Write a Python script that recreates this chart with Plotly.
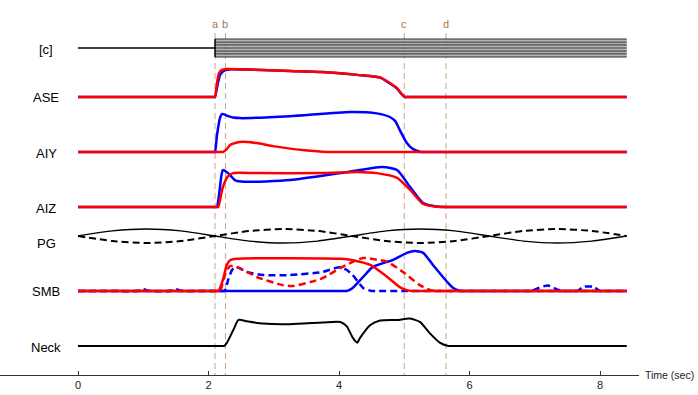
import plotly.graph_objects as go

# ---------------- data ----------------
X_TICKS = [0, 2, 4, 6, 8]
T_END = 8.41
EVENT_TIMES = [2.10, 2.26, 5.00, 5.64]
EVENT_LABELS = ["a", "b", "c", "d"]
ROW_LABELS = ["[c]", "ASE", "AIY", "AIZ", "PG", "SMB", "Neck"]

# stimulus concentration [c]
STIM_ON = 2.10
STIM_LEVELS = [-0.32, -0.21, -0.11, 0.0, 0.11, 0.21, 0.32]
STIM_GAPS = [-0.265, -0.16, -0.055, 0.055, 0.16, 0.265]

# ASE
ASE_RED_T = [0, 1.0, 1.9, 2.05, 2.09, 2.10, 2.13, 2.16, 2.20, 2.28, 2.60, 3.25, 3.75, 4.28, 4.63, 4.78, 4.89, 4.96, 5.01, 5.05, 5.2, 6.0, T_END]
ASE_RED_V = [0, 0, 0, 0, 0, 0, 0.50, 0.85, 0.96, 1.00, 0.98, 0.93, 0.89, 0.79, 0.70, 0.50, 0.32, 0.11, 0, 0, 0, 0, 0]
ASE_BLUE_T = [0, 1.0, 1.9, 2.05, 2.09, 2.10, 2.14, 2.18, 2.25, 2.35, 2.60, 3.25, 3.75, 4.28, 4.63, 4.78, 4.89, 4.96, 5.01, 5.05, 5.2, 6.0, T_END]
ASE_BLUE_V = [0, 0, 0, 0, 0, 0, 0.45, 0.80, 0.95, 0.99, 0.98, 0.93, 0.89, 0.79, 0.69, 0.48, 0.30, 0.10, 0, 0, 0, 0, 0]

# AIY
AIY_BLUE_T = [0, 1.0, 1.9, 2.05, 2.09, 2.10, 2.13, 2.18, 2.21, 2.28, 2.38, 2.48, 3.25, 4.17, 4.58, 4.78, 4.86, 4.93, 5.04, 5.13, 5.24, 5.32, 5.5, 6.5, T_END]
AIY_BLUE_V = [0, 0, 0, 0, 0, 0, 0.60, 1.25, 1.36, 1.30, 1.23, 1.21, 1.28, 1.43, 1.38, 1.25, 1.11, 0.79, 0.32, 0.11, 0.01, 0, 0, 0, 0]
AIY_RED_T = [0, 1.0, 1.9, 2.15, 2.20, 2.22, 2.28, 2.33, 2.41, 2.48, 2.74, 2.99, 3.51, 3.75, 3.9, 4.5, 6.0, T_END]
AIY_RED_V = [0, 0, 0, 0, 0, 0, 0.10, 0.25, 0.32, 0.36, 0.32, 0.21, 0.05, 0.01, 0, 0, 0, 0]

# AIZ
AIZ_BLUE_T = [0, 1.0, 1.9, 2.08, 2.12, 2.13, 2.17, 2.20, 2.22, 2.30, 2.41, 2.55, 3.25, 4.02, 4.67, 4.89, 5.09, 5.29, 5.50, 5.75, 6.0, 7.0, T_END]
AIZ_BLUE_V = [0, 0, 0, 0, 0, 0, 0.60, 1.15, 1.32, 1.21, 0.95, 0.90, 0.96, 1.21, 1.43, 1.32, 0.71, 0.14, 0.02, 0, 0, 0, 0]
AIZ_RED_T = [0, 1.0, 1.9, 2.10, 2.14, 2.15, 2.22, 2.30, 2.38, 2.74, 3.75, 4.28, 4.58, 4.89, 5.09, 5.29, 5.50, 5.75, 6.0, 7.0, T_END]
AIZ_RED_V = [0, 0, 0, 0, 0, 0, 0.71, 1.10, 1.21, 1.21, 1.21, 1.25, 1.21, 1.04, 0.61, 0.11, 0.01, 0, 0, 0, 0]

# PG (solid and dashed)
PG_T = [0, 0.525, 1.05, 1.575, 2.1, 2.625, 3.15, 3.675, 4.2, 4.725, 5.25, 5.775, 6.3, 6.825, 7.35, 7.875, 8.41]
PG_SOLID_V = [0, 0.18, 0.25, 0.18, 0, -0.18, -0.25, -0.18, 0, 0.18, 0.25, 0.18, 0, -0.18, -0.25, -0.18, 0]
PG_DASH_V = [0, -0.18, -0.25, -0.18, 0, 0.18, 0.25, 0.18, 0, -0.18, -0.25, -0.18, 0, 0.18, 0.25, 0.18, 0]

# SMB
SMB_RED_T = [0, 1.0, 1.9, 2.10, 2.14, 2.15, 2.22, 2.28, 2.33, 2.44, 3.25, 4.02, 4.21, 4.48, 4.74, 4.93, 5.04, 5.12, 5.2, 5.5, 6.5, T_END]
SMB_RED_V = [0, 0, 0, 0, 0, 0, 0.39, 0.93, 1.10, 1.15, 1.17, 1.15, 1.10, 0.93, 0.50, 0.14, 0.03, 0, 0, 0, 0, 0]
SMB_RED_DASH_T = [0, 1.0, 1.9, 2.12, 2.17, 2.18, 2.25, 2.33, 2.44, 2.74, 3.14, 3.30, 3.56, 3.75, 4.02, 4.21, 4.37, 4.52, 4.74, 4.98, 5.24, 5.39, 5.50, 5.6, 6.0, 7.0, T_END]
SMB_RED_DASH_V = [0, 0, 0, 0, 0, 0, 0.57, 0.89, 0.86, 0.50, 0.21, 0.18, 0.32, 0.46, 0.82, 1.04, 1.18, 1.14, 1.04, 0.68, 0.21, 0.04, 0, 0, 0, 0, 0]
SMB_BLUE_DASH_T = [0, 0.5, 0.9, 1.0, 1.1, 1.4, 1.5, 1.6, 1.9, 2.2, 2.24, 2.25, 2.30, 2.36, 2.41, 2.59, 2.84, 3.25, 3.75, 4.02, 4.12,
                   4.21, 4.37, 4.48, 4.55, 5.0, 6.0, 6.9, 6.95, 7.05, 7.20, 7.35, 7.45, 7.6, 7.65, 7.75, 7.90, 8.00, 8.1, T_END]
SMB_BLUE_DASH_V = [0, 0, 0, 0.06, 0, 0, 0.06, 0, 0, 0, 0, 0, 0.39, 0.75, 0.86, 0.68, 0.57, 0.57, 0.68, 0.86, 0.75,
                   0.57, 0.11, 0.01, 0, 0, 0, 0, 0, 0.10, 0.20, 0.05, 0, 0, 0, 0.15, 0.15, 0, 0, 0]
SMB_BLUE_T = [0, 1.0, 2.0, 3.0, 3.9, 4.08, 4.12, 4.21, 4.37, 4.52, 4.83, 5.04, 5.16, 5.29, 5.44, 5.66, 5.75, 5.85, 5.95, 6.5, 7.5, T_END]
SMB_BLUE_V = [0, 0, 0, 0, 0, 0, 0, 0.11, 0.50, 0.86, 1.11, 1.36, 1.43, 1.36, 0.93, 0.32, 0.11, 0.01, 0, 0, 0, 0]

# Neck
NECK_T = [0, 1.0, 1.9, 2.18, 2.22, 2.24, 2.28, 2.38, 2.46, 2.59, 2.84, 3.25, 3.75, 4.02, 4.12, 4.21, 4.28, 4.32,
          4.48, 4.63, 4.89, 5.09, 5.24, 5.39, 5.55, 5.66, 5.75, 6.2, 7.2, T_END]
NECK_V = [0, 0, 0, 0, 0, 0, 0.11, 0.57, 0.93, 0.88, 0.80, 0.78, 0.84, 0.86, 0.70, 0.30, 0.12, 0.28,
          0.75, 0.91, 0.93, 0.98, 0.86, 0.46, 0.11, 0.01, 0, 0, 0, 0]

# ---------------- layout constants ----------------
UNIT = 28.0             # vertical pixels per signal unit
PX_PER_S = 65.25
ROW_BASE = {"[c]": 48, "ASE": 97, "AIY": 152, "AIZ": 207, "PG": 236, "SMB": 291, "Neck": 346}
LABEL_Y = {"[c]": 49, "ASE": 97, "AIY": 153, "AIZ": 208, "PG": 243, "SMB": 291, "Neck": 347}
RED = "#ff0000"
BLUE = "#0000ff"
TAN_LINE = "#c9a682"
TAN_TEXT = "#a8784e"


def ymap(row, vals):
    return [-ROW_BASE[row] + v * UNIT for v in vals]


fig = go.Figure()


def add(row, t, v, color, width=2.5, dash=None):
    fig.add_trace(go.Scatter(
        x=t, y=ymap(row, v), mode="lines",
        line=dict(color=color, width=width, dash=dash, shape="spline", smoothing=0.6),
        hoverinfo="skip", showlegend=False))


# [c] stimulus
fig.add_trace(go.Scatter(x=[0, STIM_ON], y=ymap("[c]", [0, 0]), mode="lines",
                         line=dict(color="black", width=1.5), showlegend=False, hoverinfo="skip"))
for g in STIM_GAPS:
    fig.add_trace(go.Scatter(x=[STIM_ON, T_END], y=ymap("[c]", [g, g]), mode="lines",
                             line=dict(color="#b4b4b4", width=2.2), showlegend=False, hoverinfo="skip"))
for lv in STIM_LEVELS:
    fig.add_trace(go.Scatter(x=[STIM_ON, T_END], y=ymap("[c]", [lv, lv]), mode="lines",
                             line=dict(color="#1a1a1a", width=1), showlegend=False, hoverinfo="skip"))
fig.add_trace(go.Scatter(x=[STIM_ON, STIM_ON], y=ymap("[c]", [STIM_LEVELS[0], STIM_LEVELS[-1]]), mode="lines",
                         line=dict(color="black", width=1.5), showlegend=False, hoverinfo="skip"))

# ASE
add("ASE", ASE_BLUE_T, ASE_BLUE_V, BLUE)
add("ASE", ASE_RED_T, ASE_RED_V, RED)
# AIY
add("AIY", AIY_BLUE_T, AIY_BLUE_V, BLUE)
add("AIY", AIY_RED_T, AIY_RED_V, RED)
# AIZ
add("AIZ", AIZ_BLUE_T, AIZ_BLUE_V, BLUE)
add("AIZ", AIZ_RED_T, AIZ_RED_V, RED)
# PG
add("PG", PG_T, PG_SOLID_V, "black", width=1.3)
add("PG", PG_T, PG_DASH_V, "black", width=2, dash="7px,4px")
# SMB
add("SMB", SMB_BLUE_T, SMB_BLUE_V, BLUE)
add("SMB", SMB_BLUE_DASH_T, SMB_BLUE_DASH_V, BLUE, dash="7px,4px")
add("SMB", SMB_RED_DASH_T, SMB_RED_DASH_V, RED, dash="7px,4px")
add("SMB", SMB_RED_T, SMB_RED_V, RED)
# Neck
add("Neck", NECK_T, NECK_V, "black", width=2)

# event markers
for t, lab in zip(EVENT_TIMES, EVENT_LABELS):
    fig.add_shape(type="line", xref="x", yref="y", x0=t, x1=t, y0=-33, y1=-375,
                  line=dict(color=TAN_LINE, width=1, dash="6px,4px"), layer="below")
    fig.add_annotation(x=t, y=-24, xref="x", yref="y", text=lab, showarrow=False,
                       font=dict(size=11, color=TAN_TEXT, family="Liberation Sans, Arial"))

# row labels
for lab in ROW_LABELS:
    fig.add_annotation(x=(46 - 78) / PX_PER_S, y=-LABEL_Y[lab], xref="x", yref="y", text=lab,
                       showarrow=False, xanchor="center", yanchor="middle",
                       font=dict(size=13, color="black", family="Liberation Sans, Arial"))

fig.add_annotation(x=696 / 639, y=0, xref="paper", yref="paper", text="Time (sec)", showarrow=False,
                   xanchor="right", yanchor="middle", xshift=0,
                   font=dict(size=10.5, color="#222", family="Liberation Sans, Arial"))

fig.update_layout(
    width=698, height=395,
    margin=dict(l=0, r=59, t=0, b=20),
    paper_bgcolor="white", plot_bgcolor="white",
    xaxis=dict(range=[-78 / PX_PER_S, 561 / PX_PER_S], tickvals=X_TICKS, ticktext=[str(v) for v in X_TICKS],
               showline=True, linecolor="#333", linewidth=1, ticks="inside", ticklen=4, tickcolor="#333",
               showgrid=False, zeroline=False,
               tickfont=dict(size=11, color="#222", family="Liberation Sans, Arial")),
    yaxis=dict(range=[-375, 0], visible=False, showgrid=False, zeroline=False),
    showlegend=False,
)

fig.write_html("out.html", config={"displayModeBar": False},
               post_script="document.body.style.margin='0';document.body.style.padding='0';")
